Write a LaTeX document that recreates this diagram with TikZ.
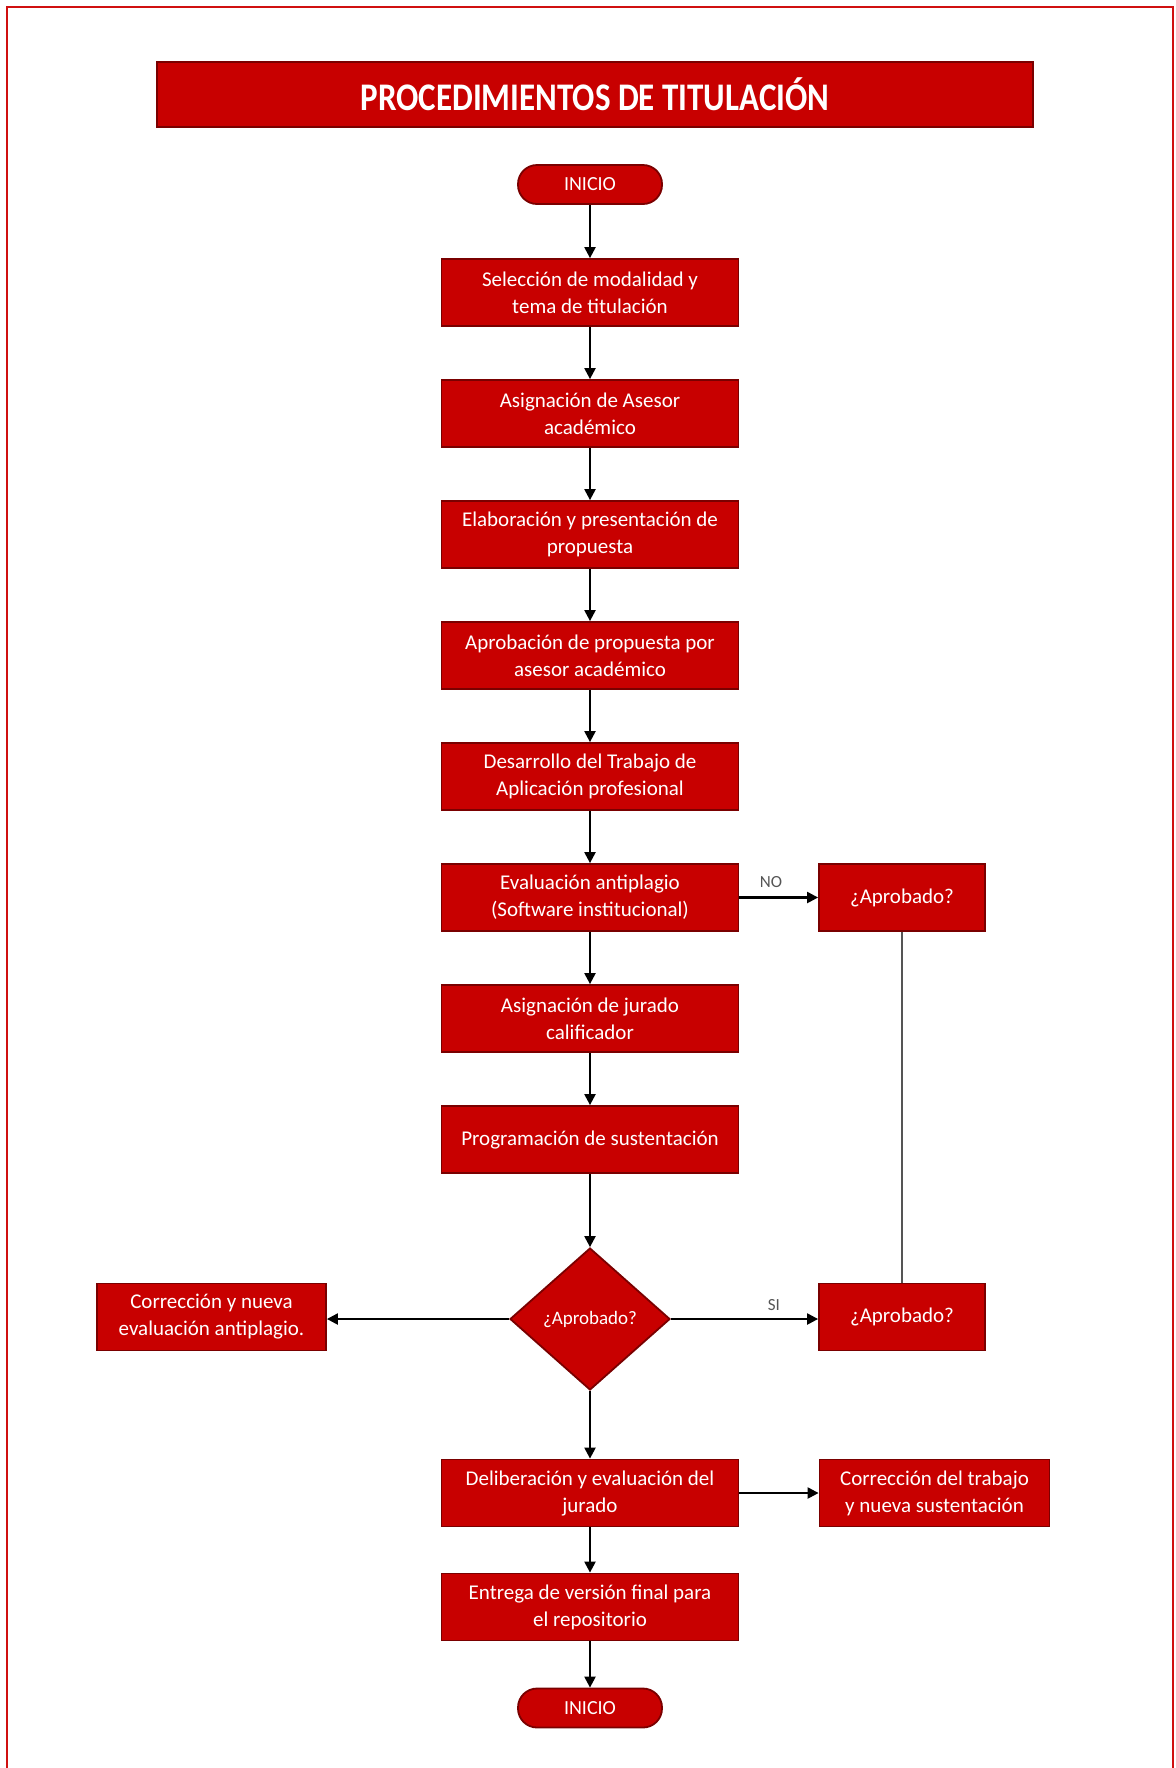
\documentclass[tikz,border=0pt]{standalone}
\usepackage{fontspec}
\usepackage{graphicx}
\setmainfont{Carlito}
\usetikzlibrary{shapes.geometric,arrows.meta,positioning}
\definecolor{boxred}{HTML}{C80000}
\definecolor{edgered}{HTML}{7A0000}
\definecolor{framered}{HTML}{D01010}
\definecolor{linegray}{HTML}{555555}
\tikzset{
  stepbox/.style={rectangle, fill=boxred, draw=edgered, line width=0.9pt, text=white,
    minimum width=148.5pt, minimum height=33.5pt, align=center, inner sep=1pt,
    font=\fontsize{10.5}{13.5}\selectfont},
  sidebox/.style={stepbox, minimum width=83pt},
  widebox/.style={stepbox, minimum width=115pt},
  terminal/.style={rectangle, rounded corners=9.5pt, fill=boxred, draw=edgered, line width=0.9pt,
    text=white, minimum width=72pt, minimum height=19.5pt, inner sep=1pt,
    font=\fontsize{10}{12}\selectfont},
  decision/.style={diamond, fill=boxred, draw=edgered, line width=0.9pt, text=white,
    minimum width=80pt, minimum height=71pt, inner sep=0pt, aspect=1.14,
    font=\fontsize{9.5}{11}\selectfont},
  flow/.style={draw=black, line width=1.1pt, -{Triangle[width=5.5pt,length=5.5pt]}},
  plainline/.style={draw=linegray, line width=0.8pt},
  lbl/.style={text=linegray, font=\fontsize{8.5}{10}\selectfont, inner sep=1.5pt}
}
\begin{document}
\begin{tikzpicture}[x=0.5pt,y=-0.5pt]
\useasboundingbox (0,0) rectangle (1176,1768);
% outer frame
\draw[framered, line width=1.2pt] (7,1770) -- (7,7) -- (1173,7) -- (1173,1770);
% title
\node[rectangle, fill=boxred, draw=edgered, line width=0.9pt, text=white,
  minimum width=438pt, minimum height=32.5pt, inner sep=0pt] (title) at (595,94.5)
  {\fontsize{17}{18}\bfseries\scalebox{0.97}[1.15]{PROCEDIMIENTOS DE TITULACIÓN}};
% main column
\node[terminal] (ini) at (590,184.5) {INICIO};
\node[stepbox] (b1) at (590,292.5) {Selección de modalidad y\\tema de titulación};
\node[stepbox] (b2) at (590,413.5) {Asignación de Asesor\\académico};
\node[stepbox] (b3) at (590,534.5) {Elaboración y presentación de\\propuesta};
\node[stepbox] (b4) at (590,655.5) {Aprobación de propuesta por\\asesor académico};
\node[stepbox] (b5) at (590,776.5) {Desarrollo del Trabajo de\\Aplicación profesional};
\node[stepbox] (b6) at (590,897.5) {Evaluación antiplagio\\(Software institucional)};
\node[stepbox] (b7) at (590,1018.5) {Asignación de jurado\\calificador};
\node[stepbox] (b8) at (590,1139.5) {Programación de sustentación};
\node[decision] (d1) at (590,1319) {¿Aprobado?};
\node[stepbox] (b9) at (590,1493) {Deliberación y evaluación del\\jurado};
\node[stepbox] (b10) at (590,1607) {Entrega de versión final para\\el repositorio};
\node[terminal] (fin) at (590,1708) {INICIO};
% side boxes
\node[sidebox] (a1) at (902,897.5) {¿Aprobado?};
\node[sidebox] (a2) at (902,1317) {¿Aprobado?};
\node[stepbox, minimum width=114.5pt] (c1) at (211.5,1317) {Corrección y nueva\\evaluación antiplagio.};
\node[widebox] (c2) at (934.5,1493) {Corrección del trabajo\\y nueva sustentación};
% connectors
\draw[flow] (ini) -- (b1);
\draw[flow] (b1) -- (b2);
\draw[flow] (b2) -- (b3);
\draw[flow] (b3) -- (b4);
\draw[flow] (b4) -- (b5);
\draw[flow] (b5) -- (b6);
\draw[flow] (b6) -- (b7);
\draw[flow] (b7) -- (b8);
\draw[flow] (b8) -- (d1);
\draw[flow] (d1) -- (b9);
\draw[flow] (b9) -- (b10);
\draw[flow] (b10) -- (fin);
\draw[flow] (b6.east) -- node[lbl, above, pos=0.4, yshift=3pt] (no) {NO} (a1.west);
\draw[flow] (d1.east) -- node[lbl, above, pos=0.7, yshift=2pt] (si) {SI} (a2.west |- d1.east);
\draw[flow] (d1.west) -- (c1.east |- d1.west);
\draw[flow] (b9.east) -- (c2.west);
\draw[plainline] (a1.south) -- (a2.north);
\end{tikzpicture}
\end{document}
